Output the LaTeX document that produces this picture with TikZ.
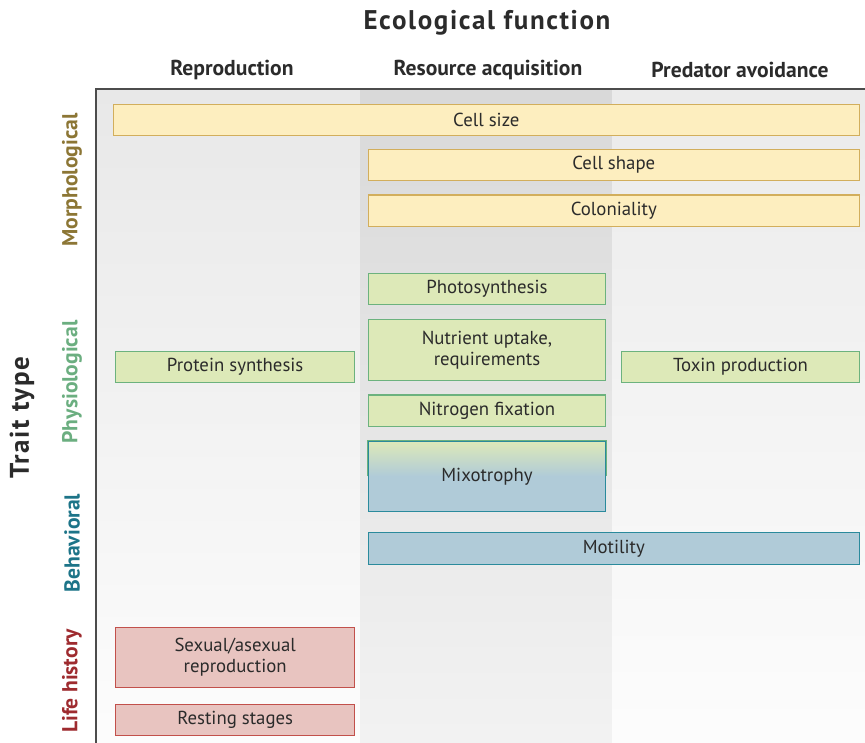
\documentclass[tikz,border=0pt]{standalone}
\usepackage{fontspec}
\setmainfont{PT Sans}
\newfontfamily\spacedfont[LetterSpace=6]{PT Sans}

\definecolor{boxtext}{HTML}{2B2B2B}
\definecolor{yfill}{HTML}{FDEEBF}
\definecolor{yline}{HTML}{D2AE5C}
\definecolor{gfill}{HTML}{DDE9B8}
\definecolor{gline}{HTML}{6CB27E}
\definecolor{bfill}{HTML}{B0CBD8}
\definecolor{bline}{HTML}{2A8A9C}
\definecolor{rfill}{HTML}{E8C4C0}
\definecolor{rline}{HTML}{C2504B}
\definecolor{morphcol}{HTML}{8C7635}
\definecolor{physcol}{HTML}{6BAE80}
\definecolor{behavcol}{HTML}{1D7488}
\definecolor{lifecol}{HTML}{9E2B2F}

\tikzset{
  trait/.style={line width=1.1pt, text=boxtext, font=\fontsize{18.8}{21}\selectfont,
    align=center, inner sep=0pt, minimum height=31.5pt},
  ybox/.style={trait, draw=yline, fill=yfill},
  gbox/.style={trait, draw=gline, fill=gfill},
  bbox/.style={trait, draw=bline, fill=bfill},
  rbox/.style={trait, draw=rline, fill=rfill},
  colhead/.style={font=\fontsize{21.6}{24}\selectfont\bfseries, text=boxtext},
  rowhead/.style={rotate=90, font=\fontsize{21.6}{24}\selectfont\bfseries}
}

\begin{document}
\begin{tikzpicture}[x=1pt, y=-1pt]
    \useasboundingbox (0, 0) rectangle (865, 743);

    % column shading
    \shade[top color=black!9, bottom color=black!1] (96, 89) rectangle (360, 743);
        \shade[top color=black!15, bottom color=black!5] (360, 89) rectangle (612, 743);
    \shade[top color=black!8, bottom color=black!1] (612, 89) rectangle (865, 743);
    \draw[line width=1.2pt, black!70] (96, 743) -- (96, 89) -- (865, 89);

    % headings
    \node (title) at(487, 23){\spacedfont\fontsize{27}{30}\selectfont\bfseries\color{boxtext}Ecological function};
    \node[colhead] (repro) at(232, 70){Reproduction};
    \node[colhead] (resource) at(488, 70){Resource acquisition};
    \node[colhead] (predator) at(740, 70){Predator avoidance};

    \node[rowhead, text=boxtext, font=\spacedfont\fontsize{27}{30}\selectfont\bfseries] (trait) at(22, 418){Trait type};
        \node[rowhead, text=morphcol] (morph) at(72, 180){Morphological};
        \node[rowhead, text=physcol] (physio) at(72, 382){Physiological};
        \node[rowhead, text=behavcol] (behav) at(72, 543){Behavioral};
        \node[rowhead, text=lifecol] (life) at(72, 681){Life history};

    % morphological
    \node[ybox, minimum width=746pt] (cellsize) at(486.3, 120){Cell size};
    \node[ybox, minimum width=491pt] (cellshape) at(613.8, 165){Cell shape};
    \node[ybox, minimum width=491pt] (colony) at(613.8, 210.8){Coloniality};

    % physiological
    \node[gbox, minimum width=237.4pt] (photo) at(487, 289){Photosynthesis};
    \node[gbox, minimum width=237.4pt, minimum height=61.4pt] (nutrient) at(487, 350){Nutrient uptake,\\requirements};
    \node[gbox, minimum width=239pt] (protein) at(235.2, 367){Protein synthesis};
    \node[gbox, minimum width=237.6pt] (toxin) at(740.5, 367){Toxin production};
    \node[gbox, minimum width=237.4pt] (nitrogen) at(487, 410.7){Nitrogen fixation};
        \shade[top color=gfill, bottom color=bfill] (368.3, 441) rectangle (605.7, 476.3);
        \fill[bfill] (368.3, 476.3) rectangle (605.7, 511.6);
    \node[trait, draw=bline, minimum width=237.4pt, minimum height=70.7pt] (mixo) at(487, 476.3){Mixotrophy};
        \draw[line width=1.1pt, gline] (mixo.west) -- (mixo.north west) -- (mixo.north east) -- (mixo.east);

    % behavioral
    \node[bbox, minimum width=491pt] (motility) at(613.8, 548.3){Motility};

    % life history
    \node[rbox, minimum width=239pt, minimum height=60pt] (sexual) at(235.2, 657.3){Sexual/asexual\\reproduction};
    \node[rbox, minimum width=239pt] (resting) at(235.2, 720){Resting stages};
\end{tikzpicture}
\end{document}
